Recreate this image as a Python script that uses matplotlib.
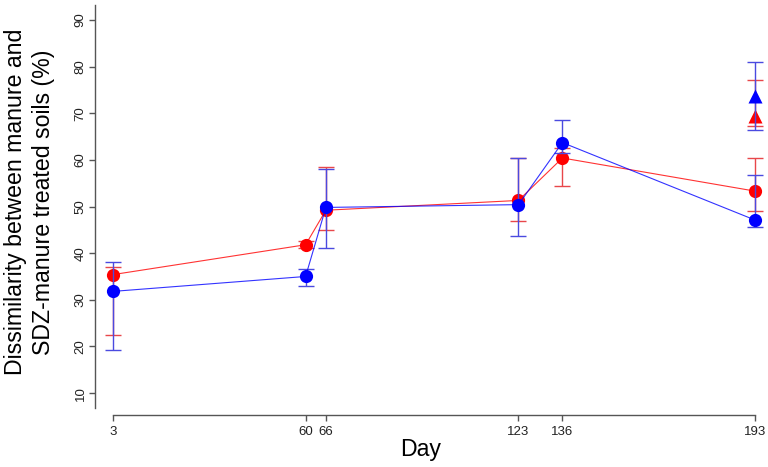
import matplotlib
matplotlib.use("Agg")
import matplotlib.pyplot as plt

# ---------------------------------------------------------------------------
# Data
# ---------------------------------------------------------------------------
days = [3, 60, 66, 123, 136, 193]

red_mean = [35.4, 41.8, 49.2, 51.3, 60.4, 53.3]
red_lo = [22.4, 41.0, 44.9, 46.8, 54.5, 49.1]
red_hi = [37.0, 42.6, 58.5, 60.3, 62.5, 60.4]

blue_mean = [31.8, 35.0, 49.8, 50.4, 63.7, 47.1]
blue_lo = [19.2, 33.0, 41.0, 43.6, 61.5, 45.6]
blue_hi = [38.1, 36.6, 58.1, 60.3, 68.5, 56.7]

# triangles at the last day
tri_day = 193
red_tri = 69.4
red_tri_lo, red_tri_hi = 67.3, 77.1
blue_tri = 73.7
blue_tri_lo, blue_tri_hi = 66.4, 81.0

yticks = [10, 20, 30, 40, 50, 60, 70, 80, 90]

RED = "#ff0000"
BLUE = "#0000ff"
RED_ERR = "#e8474a"
BLUE_ERR = "#4a4ae0"

W, H = 768, 467

plt.rcParams["font.family"] = ["Liberation Sans", "DejaVu Sans"]

fig = plt.figure(figsize=(W / 100, H / 100), dpi=100)
ax = fig.add_axes([95 / W, 59 / H, 673.5 / W, 403 / H])


def series(mean, lo, hi, col, ecol):
    err = [[m - l for m, l in zip(mean, lo)], [h - m for m, h in zip(mean, hi)]]
    ax.errorbar(days, mean, yerr=err, fmt="none", ecolor=ecol, elinewidth=1,
                capsize=5.5, capthick=1, clip_on=False)
    ax.plot(days, mean, color=col, lw=0.8, alpha=0.8, clip_on=False)
    ax.plot(days, mean, "o", color=col, ms=9.5, mec="none", clip_on=False)


def tri(val, lo, hi, col, ecol):
    ax.errorbar([tri_day], [val], yerr=[[val - lo], [hi - val]], fmt="none",
                ecolor=ecol, elinewidth=1, capsize=5.5, capthick=1, clip_on=False)
    ax.plot([tri_day], [val], "^", color=col, ms=10, mec="none", clip_on=False)


series(red_mean, red_lo, red_hi, RED, RED_ERR)
series(blue_mean, blue_lo, blue_hi, BLUE, BLUE_ERR)
tri(red_tri, red_tri_lo, red_tri_hi, RED, RED_ERR)
tri(blue_tri, blue_tri_lo, blue_tri_hi, BLUE, BLUE_ERR)

ax.set_xlim(-2.33, 197)
ax.set_ylim(6.8, 93.2)

for s in ["top", "right"]:
    ax.spines[s].set_visible(False)
ax.spines["bottom"].set_position(("outward", 5))
ax.spines["bottom"].set_bounds(days[0], days[-1])
for s in ["left", "bottom"]:
    ax.spines[s].set_color("#555555")
    ax.spines[s].set_linewidth(1)

ax.set_xticks(days)
ax.set_xticklabels([str(d) for d in days])
ax.set_yticks(yticks)
ax.set_yticklabels([str(v) for v in yticks], rotation=90, va="center")
ax.tick_params(axis="both", direction="out", length=4.5, width=1, color="#555555",
               labelsize=9.5, labelcolor="#222222")
ax.tick_params(axis="y", pad=1.5)
ax.tick_params(axis="x", pad=3.5)

# axis titles placed in pixel positions like the reference
fig.text(22 / W, 1 - 202 / H, "Dissimilarity between manure and", rotation=90,
         rotation_mode="anchor", ha="center", va="baseline", fontsize=16.7)
fig.text(50 / W, 1 - 202 / H, "SDZ-manure treated soils (%)", rotation=90,
         rotation_mode="anchor", ha="center", va="baseline", fontsize=16.7)
fig.text(421 / W, 1 - 456 / H, "Day", ha="center", va="baseline", fontsize=16.7)

fig.savefig("out.png", dpi=100)
